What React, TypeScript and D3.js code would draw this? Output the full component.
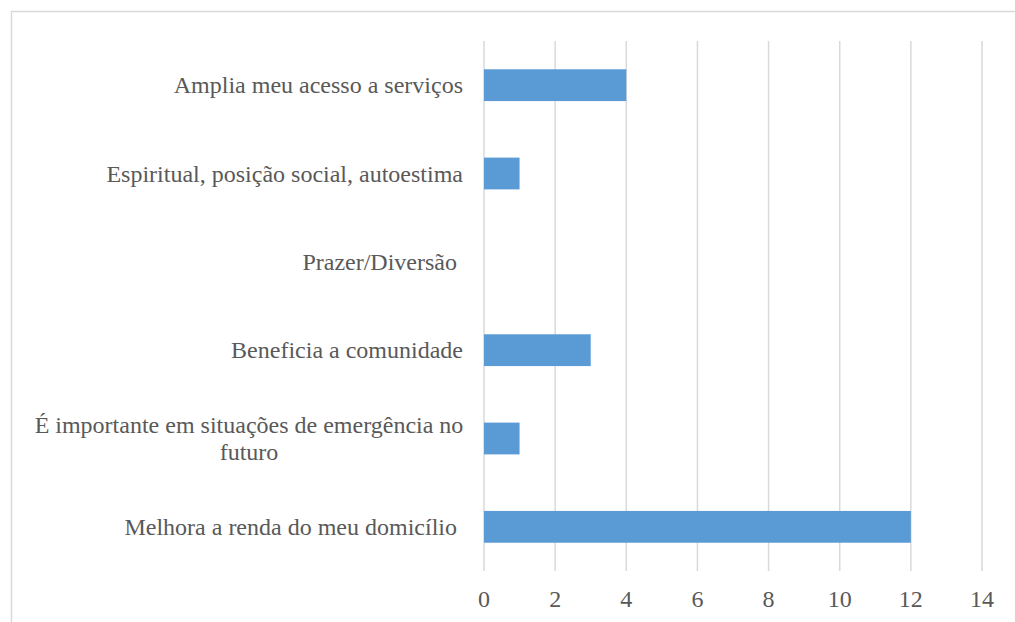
import React from "react";
import * as d3 from "d3";

const categories: string[][] = [
  ["Amplia meu acesso a serviços"],
  ["Espiritual, posição social, autoestima"],
  ["Prazer/Diversão "],
  ["Beneficia a comunidade"],
  ["É importante em situações de emergência no", "futuro"],
  ["Melhora a renda do meu domicílio "],
];
const values: number[] = [4, 1, 0, 3, 1, 12];
const xTicks: number[] = [0, 2, 4, 6, 8, 10, 12, 14];

const W = 1015;
const H = 622;
const plotLeft = 484;
const plotRight = 982;
const plotTop = 41;
const plotBottom = 571;
const font = "Liberation Serif";
const textColor = "#595959";
const fs = 24;

export default function App() {
  const x = d3.scaleLinear().domain([0, 14]).range([plotLeft, plotRight]);
  const y = d3
    .scaleBand<number>()
    .domain(d3.range(categories.length))
    .range([plotTop, plotBottom])
    .paddingInner(0.64)
    .paddingOuter(0.32);
  const band = (plotBottom - plotTop) / categories.length;

  return (
    <div style={{ position: "absolute", left: 0, top: 0, width: W, height: H, background: "#fff" }}>
      <svg width={W} height={H} style={{ display: "block" }}>
        <rect x={11.5} y={11.5} width={W + 10} height={H + 10} fill="#fff" stroke="#d9d9d9" strokeWidth={1.5} />
        {xTicks.map((t) => (
          <line key={t} x1={x(t)} x2={x(t)} y1={plotTop} y2={plotBottom} stroke="#d9d9d9" strokeWidth={1.5} />
        ))}
        {values.map((v, i) => (
          <rect
            key={i}
            x={x(0)}
            y={y(i)!}
            width={x(v) - x(0)}
            height={y.bandwidth()}
            fill="#5B9BD5"
          />
        ))}
        {categories.map((lines, i) => {
          const cy = plotTop + band * (i + 0.5);
          if (lines.length === 1) {
            return (
              <text
                key={i}
                x={463}
                y={cy + 8}
                textAnchor="end"
                fontFamily={font}
                fontSize={fs}
                fill={textColor}
                style={{ whiteSpace: "pre" }}
              >
                {lines[0]}
              </text>
            );
          }
          const lh = 27;
          return (
            <text key={i} textAnchor="middle" fontFamily={font} fontSize={fs} fill={textColor}>
              {lines.map((ln, j) => (
                <tspan key={j} x={249} y={cy + 8 + (j - (lines.length - 1) / 2) * lh}>
                  {ln}
                </tspan>
              ))}
            </text>
          );
        })}
        {xTicks.map((t) => (
          <text
            key={t}
            x={x(t)}
            y={607}
            textAnchor="middle"
            fontFamily={font}
            fontSize={fs}
            fill={textColor}
          >
            {t}
          </text>
        ))}
      </svg>
    </div>
  );
}
